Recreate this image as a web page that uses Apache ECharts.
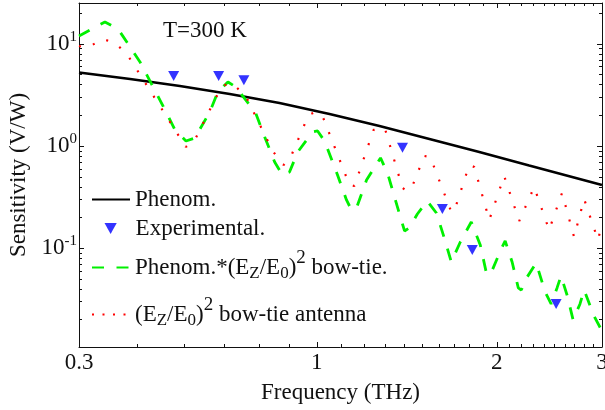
<!DOCTYPE html>
<html>
<head>
<meta charset="utf-8">
<script src="https://cdn.jsdelivr.net/npm/echarts@6/dist/echarts.min.js"></script>
<style>
  html, body { margin: 0; padding: 0; background: #fff; }
  #chart { width: 605px; height: 410px; }
</style>
</head>
<body>
<div id="chart"></div>
<script>
// Phenomenological responsivity model (black solid line)
const freqPhenom = [0.4, 0.487, 0.590, 0.715, 0.866, 1.05, 1.273, 1.543, 1.87, 2.266, 3.0];
const sensPhenom = [5.26, 4.54, 3.88, 3.24, 2.645, 2.064, 1.575, 1.175, 0.876, 0.646, 0.417];

// Measured points (blue triangles)
const freqExp = [0.576, 0.685, 0.755, 1.391, 1.622, 1.82, 2.514];
const sensExp = [4.86, 4.86, 4.41, 0.966, 0.2425, 0.0962, 0.0285];

// Phenom. model weighted by the bow-tie field enhancement (green dashed)
const freqBowTie = [0.400, 0.442, 0.465, 0.506, 0.553, 0.579, 0.604, 0.625, 0.662, 0.683,
  0.710, 0.732, 0.790, 0.818, 0.850, 0.876, 0.900, 0.929, 0.984, 1.003,
  1.030, 1.083, 1.121, 1.143, 1.165, 1.211, 1.278, 1.313, 1.364, 1.402,
  1.428, 1.473, 1.530, 1.585, 1.634, 1.679, 1.738, 1.813, 1.877, 1.920,
  1.950, 2.042, 2.066, 2.122, 2.173, 2.198, 2.249, 2.328, 2.410, 2.466,
  2.523, 2.562, 2.622, 2.684, 2.756, 2.800, 2.909, 3.000];
const sensBowTie = [11.98, 16.42, 14.03, 6.67, 2.47, 1.439, 1.123, 1.202, 2.16, 3.39,
  4.25, 3.79, 2.11, 1.229, 0.700, 0.522, 0.558, 0.876, 1.375, 1.407,
  1.123, 0.522, 0.297, 0.237, 0.248, 0.466, 0.766, 0.546, 0.254, 0.1477,
  0.158, 0.2166, 0.290, 0.2216, 0.1261, 0.0734, 0.1152, 0.181, 0.1077, 0.0586,
  0.0548, 0.1030, 0.1179, 0.0734, 0.0409, 0.0390, 0.0524, 0.0718, 0.0373, 0.0285,
  0.0409, 0.0536, 0.0349, 0.0199, 0.0285, 0.0390, 0.0217, 0.0155];

// Field enhancement (Ez/E0)^2 of the bow-tie antenna (red dotted)
const freqAntenna = [0.400, 0.4124, 0.4386, 0.4595, 0.4811, 0.6037, 0.6248, 0.6934, 0.7206, 0.7604,
  0.8435, 0.8800, 0.9073, 0.9687, 0.9951, 1.022, 1.134, 1.156, 1.244, 1.278,
  1.302, 1.391, 1.418, 1.445, 1.513, 1.548, 1.679, 1.698, 1.799, 1.834,
  1.943, 2.058, 2.181, 2.310, 2.447, 2.572, 2.694, 2.800, 2.954, 3.000];
const sensAntenna = [9.56, 9.14, 11.19, 10.23, 7.98, 0.981, 1.149, 3.88, 4.15, 3.10,
  0.896, 0.654, 0.819, 2.02, 2.16, 1.97, 0.417, 0.407, 1.439, 1.540,
  1.439, 0.389, 0.364, 0.407, 0.801, 0.783, 0.2266, 0.2318, 0.654, 0.625,
  0.1892, 0.510, 0.185, 0.398, 0.151, 0.348, 0.129, 0.304, 0.1206, 0.173];

// Axis ranges and ticks
const xMin = 0.4, xMax = 3;
const yMin = 0.0108, yMax = 25.2;
const xTickValues = [0.4, 1, 2, 3];
const xTickLabels = ['0.3', '1', '2', '3'];
const xMinorTicks = [0.5, 0.6, 0.7, 0.8, 0.9, 1.1, 1.2, 1.3, 1.4, 1.5, 1.6, 1.7, 1.8, 1.9,
  2.1, 2.2, 2.3, 2.4, 2.5, 2.6, 2.7, 2.8, 2.9];
const yTickValues = [0.1, 1, 10];
const yTickExponents = ['-1', '0', '1'];
const yMinorTicks = [0.02, 0.03, 0.04, 0.05, 0.06, 0.07, 0.08, 0.09,
  0.2, 0.3, 0.4, 0.5, 0.6, 0.7, 0.8, 0.9, 2, 3, 4, 5, 6, 7, 8, 9, 20];

const seriesNames = ['Phenom.', 'Experimental.', 'Phenom. bow-tie', 'Bow-tie antenna'];

const FONT = "'Liberation Serif', 'Times New Roman', serif";
const INK = '#111';
const FS = 23;
const GREEN = '#00f000';

const pairs = (xs, ys) => xs.map((x, i) => [x, ys[i]]);
const findIndex = (arr, v) => arr.findIndex(a => Math.abs(a - v) / a < 1e-6);

const fieldRich = {
  t: { fontFamily: FONT, fontSize: FS, color: INK, lineHeight: 26 },
  sub: { fontFamily: FONT, fontSize: 17, color: INK, lineHeight: 17, padding: [12, 0, 0, 0] },
  sup: { fontFamily: FONT, fontSize: 19, color: INK, lineHeight: 19, padding: [0, 0, 18, 0] }
};

function logAxis(kind, extra) {
  const base = {
    type: 'log', logBase: 10,
    min: kind === 'x' ? xMin : yMin,
    max: kind === 'x' ? xMax : yMax,
    splitLine: { show: false },
    axisLine: { show: false },
    axisLabel: { show: false },
    axisTick: { show: false }
  };
  return Object.assign(base, extra);
}

function ticks(values, len) {
  return { show: true, inside: true, length: len, customValues: values,
    lineStyle: { color: INK, width: 1 } };
}

const frame = { show: true, onZero: false, lineStyle: { color: INK, width: 1 } };
// line-series legend entries show only the line sample, no marker
const noMarker = { opacity: 0 };

const chart = echarts.init(document.getElementById('chart'), null, { renderer: 'canvas' });

chart.setOption({
  animation: false,
  backgroundColor: '#fff',
  title: {
    text: 'T=300 K', left: 163, top: 19, padding: 0,
    textStyle: { fontFamily: FONT, fontSize: FS, fontWeight: 'normal', color: INK }
  },
  grid: { left: 79, top: 3, width: 523, height: 344, outerBoundsMode: 'none' },
  xAxis: [
    logAxis('x', {
      position: 'bottom',
      axisLine: frame,
      axisTick: ticks(xTickValues, 5),
      axisLabel: {
        show: true, customValues: xTickValues, margin: 4,
        fontFamily: FONT, fontSize: FS, color: INK, hideOverlap: false,
        formatter: v => xTickLabels[findIndex(xTickValues, v)]
      },
      name: 'Frequency (THz)', nameLocation: 'middle', nameGap: 34,
      nameTextStyle: { fontFamily: FONT, fontSize: FS, color: INK }
    }),
    logAxis('x', { position: 'bottom', axisTick: ticks(xMinorTicks, 3) }),
    logAxis('x', { position: 'top', axisLine: frame, axisTick: ticks(xTickValues, 5) }),
    logAxis('x', { position: 'top', axisTick: ticks(xMinorTicks, 3) })
  ],
  yAxis: [
    logAxis('y', {
      position: 'left',
      axisLine: frame,
      axisTick: ticks(yTickValues, 5),
      axisLabel: {
        show: true, customValues: yTickValues, margin: 2, hideOverlap: false,
        formatter: v => '{b|10}{s|' + yTickExponents[findIndex(yTickValues, v)] + '}',
        rich: {
          b: { fontFamily: FONT, fontSize: FS, color: INK, lineHeight: 24 },
          s: { fontFamily: FONT, fontSize: 15, color: INK, lineHeight: 15, padding: [0, 0, 14, 0] }
        }
      },
      name: 'Sensitivity (V/W)', nameLocation: 'middle', nameGap: 41, nameRotate: 90,
      nameTextStyle: { fontFamily: FONT, fontSize: FS, color: INK }
    }),
    logAxis('y', { position: 'left', axisTick: ticks(yMinorTicks, 3) }),
    logAxis('y', { position: 'right', axisLine: frame, axisTick: ticks(yTickValues, 5) }),
    logAxis('y', { position: 'right', axisTick: ticks(yMinorTicks, 3) })
  ],
  legend: [
    {
      data: [{ name: seriesNames[0], itemStyle: noMarker }], left: 91, top: 188, padding: 0,
      itemWidth: 38, itemHeight: 14, selectedMode: false,
      textStyle: { fontFamily: FONT, fontSize: FS, color: INK }
    },
    {
      data: [seriesNames[1]], left: 104.5, top: 217, padding: 0,
      itemWidth: 40, itemHeight: 11, selectedMode: false,
      textStyle: { fontFamily: FONT, fontSize: FS, color: INK }
    },
    {
      data: [{ name: seriesNames[2], itemStyle: noMarker }], left: 91, top: 249, padding: 0,
      itemWidth: 38, itemHeight: 14, selectedMode: false,
      formatter: () => '{t|Phenom.*(E}{sub|Z}{t|/E}{sub|0}{t|)}{sup|2}{t| bow-tie.}',
      textStyle: { rich: fieldRich }
    },
    {
      data: [{ name: seriesNames[3], itemStyle: noMarker, lineStyle: { type: [2, 8.5] } }],
      left: 91, top: 296, padding: 0,
      itemWidth: 38, itemHeight: 14, selectedMode: false,
      formatter: () => '{t|(E}{sub|Z}{t|/E}{sub|0}{t|)}{sup|2}{t| bow-tie antenna}',
      textStyle: { rich: fieldRich }
    }
  ],
  series: [
    {
      name: seriesNames[0], type: 'line', xAxisIndex: 0, yAxisIndex: 0,
      data: pairs(freqPhenom, sensPhenom), symbol: 'none', smooth: false,
      lineStyle: { color: '#000', width: 2.6 }, itemStyle: { color: '#000' }
    },
    {
      name: seriesNames[1], type: 'scatter', xAxisIndex: 0, yAxisIndex: 0,
      data: pairs(freqExp, sensExp),
      symbol: 'path://M0,0L10,0L5,9Z', symbolSize: [11, 10],
      itemStyle: { color: '#0000ff' }
    },
    {
      name: seriesNames[2], type: 'line', xAxisIndex: 0, yAxisIndex: 0,
      data: pairs(freqBowTie, sensBowTie), symbol: 'none', smooth: false,
      lineStyle: { color: GREEN, width: 2.8, type: [12, 12.5] },
      itemStyle: { color: GREEN }
    },
    {
      name: seriesNames[3], type: 'line', xAxisIndex: 0, yAxisIndex: 0,
      data: pairs(freqAntenna, sensAntenna), symbol: 'none', smooth: false,
      lineStyle: { color: '#ff0000', width: 2.2, type: [2, 13] },
      itemStyle: { color: '#ff0000' }
    }
  ]
});
</script>
</body>
</html>
